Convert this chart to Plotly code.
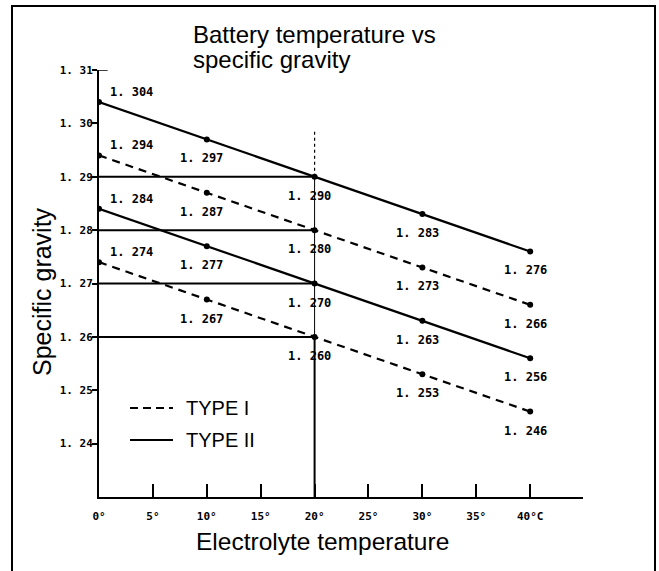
import plotly.graph_objects as go

# Electrolyte temperature (deg C) at which specific gravity was measured
temps = [0, 10, 20, 30, 40]

# Specific gravity readings, two charge levels per battery type
type2_high = [1.304, 1.297, 1.290, 1.283, 1.276]
type1_high = [1.294, 1.287, 1.280, 1.273, 1.266]
type2_low = [1.284, 1.277, 1.270, 1.263, 1.256]
type1_low = [1.274, 1.267, 1.260, 1.253, 1.246]

ref_temp = 20
ref_levels = [1.29, 1.28, 1.27, 1.26]

# Axis ticks
y_ticks = [1.24, 1.25, 1.26, 1.27, 1.28, 1.29, 1.30, 1.31]
y_tick_text = ["1. 24", "1. 25", "1. 26", "1. 27", "1. 28", "1. 29", "1. 30", "1. 31"]
x_ticks = [0, 5, 10, 15, 20, 25, 30, 35, 40]
x_tick_text = ["0°", "5°", "10°", "15°", "20°", "25°", "30°", "35°", "40°C"]

W, H = 659, 571
L, R, T, B = 99, 76, 70, 74
PW, PH = W - L - R, H - T - B


def px(x):
    return (x - L) / PW


def py(y):
    return (H - B - y) / PH


LABEL_FONT = dict(family="DejaVu Sans Mono", size=12, color="black", weight="bold")
TICK_FONT = dict(family="DejaVu Sans Mono", size=11, color="black", weight="bold")
TEXT_FONT = "Liberation Sans"

fig = go.Figure()

series = [
    (type2_high, "solid"),
    (type1_high, "8px,6px"),
    (type2_low, "solid"),
    (type1_low, "8px,6px"),
]

for values, dash in series:
    fig.add_trace(go.Scatter(
        x=temps, y=values, mode="lines+markers",
        line=dict(color="black", width=2.2, dash=dash),
        marker=dict(color="black", size=6),
        showlegend=False, hoverinfo="skip",
    ))

# Horizontal guides from the axis to the 20 deg line
for level in ref_levels:
    fig.add_trace(go.Scatter(
        x=[0, ref_temp], y=[level, level], mode="lines",
        line=dict(color="black", width=2),
        showlegend=False, hoverinfo="skip",
    ))

# Vertical guide at 20 deg
fig.add_trace(go.Scatter(
    x=[ref_temp, ref_temp], y=[1.23, min(ref_levels)], mode="lines",
    line=dict(color="black", width=2), showlegend=False, hoverinfo="skip"))
fig.add_trace(go.Scatter(
    x=[ref_temp, ref_temp], y=[min(ref_levels), max(ref_levels)], mode="lines",
    line=dict(color="black", width=1), showlegend=False, hoverinfo="skip"))
fig.add_trace(go.Scatter(
    x=[ref_temp, ref_temp], y=[max(ref_levels), 1.2985], mode="lines",
    line=dict(color="black", width=1.2, dash="3px,3px"),
    showlegend=False, hoverinfo="skip"))

annotations = []


def fmt(v):
    return f"{v:.3f}".replace(".", ". ")


for values in (type2_high, type1_high, type2_low, type1_low):
    for t, v in zip(temps, values):
        if t == 0:
            annotations.append(dict(
                x=t, y=v, xref="x", yref="y", text=fmt(v), showarrow=False,
                xanchor="left", yanchor="middle", xshift=9, yshift=10,
                font=LABEL_FONT))
        else:
            annotations.append(dict(
                x=t, y=v, xref="x", yref="y", text=fmt(v), showarrow=False,
                xanchor="center", yanchor="middle", xshift=-5, yshift=-19,
                font=LABEL_FONT))

# Title
annotations.append(dict(
    x=px(191), y=py(35), xref="paper", yref="paper", text="Battery temperature vs",
    showarrow=False, xanchor="left", yanchor="middle",
    font=dict(family=TEXT_FONT, size=24, color="black")))
annotations.append(dict(
    x=px(191), y=py(60), xref="paper", yref="paper", text="specific gravity",
    showarrow=False, xanchor="left", yanchor="middle",
    font=dict(family=TEXT_FONT, size=24, color="black")))

# Axis titles
annotations.append(dict(
    x=px(42), y=py(292), xref="paper", yref="paper", text="Specific gravity",
    showarrow=False, textangle=-90, xanchor="center", yanchor="middle",
    font=dict(family=TEXT_FONT, size=25, color="black")))
annotations.append(dict(
    x=px(322), y=py(541), xref="paper", yref="paper", text="Electrolyte temperature",
    showarrow=False, xanchor="center", yanchor="middle",
    font=dict(family=TEXT_FONT, size=24.5, color="black")))

# Legend
legend_items = [("TYPE I", "8px,5px", 408), ("TYPE II", "solid", 440)]
shapes = []
for name, dash, yy in legend_items:
    shapes.append(dict(
        type="line", xref="paper", yref="paper",
        x0=px(130), x1=px(173), y0=py(yy), y1=py(yy),
        line=dict(color="black", width=2, dash=dash)))
    annotations.append(dict(
        x=px(184), y=py(yy), xref="paper", yref="paper", text=name,
        showarrow=False, xanchor="left", yanchor="middle",
        font=dict(family=TEXT_FONT, size=20, color="black")))

# Short inward stub at the top of the y axis
shapes.append(dict(
    type="line", xref="x", yref="y", x0=0, x1=0.8, y0=1.31, y1=1.31,
    line=dict(color="black", width=1.5)))

# Outer frame
shapes.append(dict(
    type="rect", xref="paper", yref="paper",
    x0=px(12), x1=px(655), y0=py(585), y1=py(6),
    line=dict(color="black", width=2), fillcolor="rgba(0,0,0,0)"))

fig.update_layout(
    width=W, height=H, autosize=False,
    margin=dict(l=L, r=R, t=T, b=B),
    paper_bgcolor="white", plot_bgcolor="white",
    annotations=annotations, shapes=shapes,
    showlegend=False,
)

fig.update_xaxes(
    range=[0, 44.9], showgrid=False, zeroline=False,
    showline=True, linecolor="black", linewidth=2,
    tickmode="array", tickvals=x_ticks, ticktext=x_tick_text,
    ticks="inside", ticklen=13, tickwidth=2, tickcolor="black",
    ticklabelstandoff=8, tickfont=TICK_FONT,
)
fig.update_yaxes(
    range=[1.23, 1.31], showgrid=False, zeroline=False,
    showline=True, linecolor="black", linewidth=2,
    tickmode="array", tickvals=y_ticks, ticktext=y_tick_text,
    ticks="outside", ticklen=5, tickwidth=1.5, tickcolor="black",
    ticklabelstandoff=-3, tickfont=TICK_FONT,
)

fig.write_html("out.html")
